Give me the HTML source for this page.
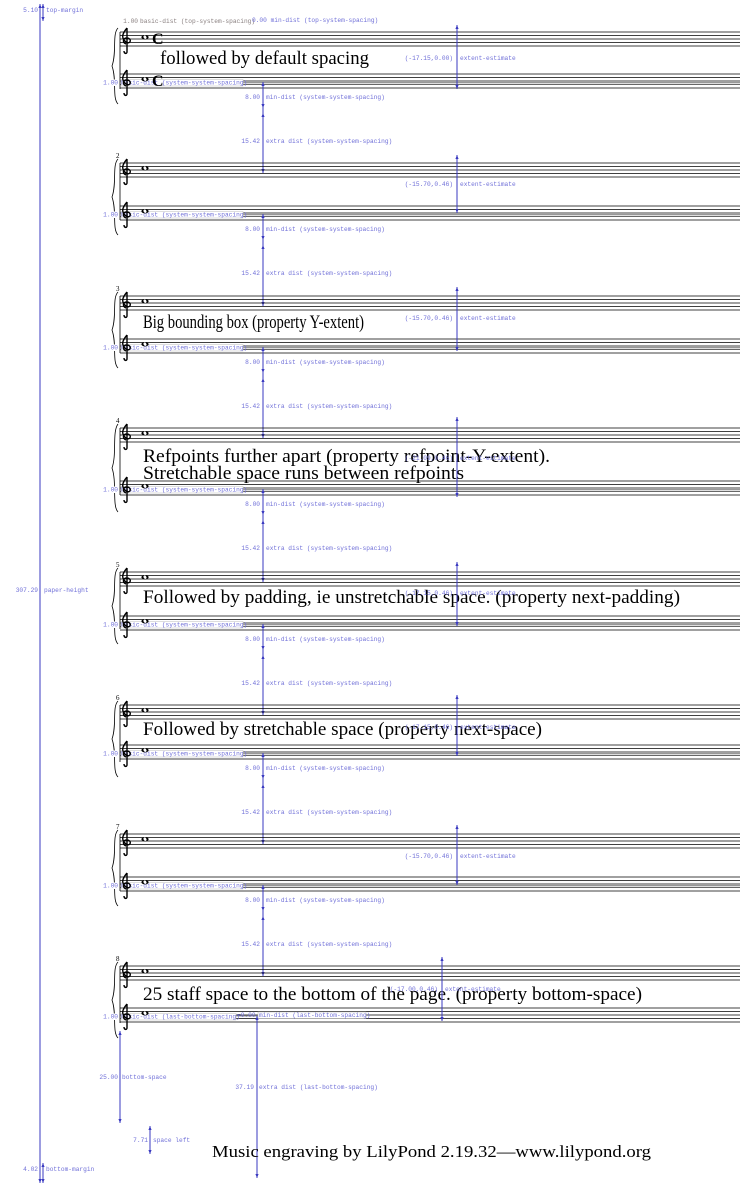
<!DOCTYPE html>
<html><head><meta charset="utf-8"><style>
html,body{margin:0;padding:0;background:#fff;}
svg{display:block;}
.l{font-family:"Liberation Mono",monospace;font-size:6.2px;fill:#7070d8;}
.g{font-family:"Liberation Mono",monospace;font-size:6.2px;fill:#8a8080;}
.b{font-family:"Liberation Serif",serif;font-size:19px;fill:#000;}
.n{font-family:"Liberation Serif",serif;font-size:7px;fill:#000;}
.bl{stroke:#3a3ac0;stroke-width:1;}
.st{stroke:#000;stroke-width:0.8;}
</style></head><body>
<svg width="741" height="1183" viewBox="0 0 741 1183" xmlns="http://www.w3.org/2000/svg">
<defs>
<g id="lines">
 <line class="st" x1="120" y1="0" x2="740" y2="0"/><line class="st" x1="120" y1="3.5" x2="740" y2="3.5"/><line class="st" x1="120" y1="7" x2="740" y2="7"/><line class="st" x1="120" y1="10.5" x2="740" y2="10.5"/><line class="st" x1="120" y1="14" x2="740" y2="14"/>
</g>
<g id="glyph">
 <path d="M127,-4 C122,2 121,6 126,10 C131,13 132,6 127,6 C123,6 122,10 126,12 M127,-4 L127,20 C127,22 124,22 124,19" fill="none" stroke="#000" stroke-width="1.4"/>
 <ellipse cx="145" cy="5.2" rx="3.6" ry="2.2" fill="#000"/><ellipse cx="145" cy="5.2" rx="1.4" ry="1.8" fill="#fff" transform="rotate(-30 145 5.2)"/>
</g>
<g id="staff"><use href="#lines"/><use href="#glyph"/></g>
<path id="up" d="M-1.6,4 L0,0 L1.6,4 Z" fill="#3a3ac0"/>
<path id="dn" d="M-1.6,-4 L0,0 L1.6,-4 Z" fill="#3a3ac0"/>
<g id="bot">
 <line x1="243" y1="8.5" x2="740" y2="8.5" stroke="#999" stroke-width="1"/>
 <line x1="243" y1="10" x2="740" y2="10" stroke="#aaa" stroke-width="0.8"/>
 <rect x="121" y="5.5" width="122" height="6.5" fill="#fff" stroke="#bbb" stroke-width="0.5"/>
 <rect x="103" y="5.5" width="16" height="6.5" fill="#fff"/>
 <text class="l" x="118" y="10.5" text-anchor="end">1.00</text>
 <text class="l" x="121" y="10.5">basic-dist (system-system-spacing)</text>
 <text class="l" x="260" y="25" text-anchor="end">8.00</text>
 <text class="l" x="266" y="25">min-dist (system-system-spacing)</text>
 <text class="l" x="260" y="69" text-anchor="end">15.42</text>
 <text class="l" x="266" y="69">extra dist (system-system-spacing)</text>
 <use href="#up" x="263" y="8"/><use href="#dn" x="263" y="34"/><use href="#up" x="263" y="39"/>
</g>
<g id="bs"><use href="#lines"/><use href="#bot"/><use href="#glyph"/></g>
<g id="brace"><path d="M118,-4 C112,2 117,20 112,34 C117,48 112,66 118,72" fill="none" stroke="#000" stroke-width="0.8"/><line x1="120" y1="0" x2="120" y2="57" stroke="#000" stroke-width="0.8"/></g>
</defs>

<line class="bl" x1="40" y1="4" x2="40" y2="1183"/>
<line class="bl" x1="43" y1="4" x2="43" y2="21"/><use href="#up" x="40" y="4"/><use href="#up" x="43" y="4"/><use href="#dn" x="43" y="21"/>
<text class="l" x="38" y="12" text-anchor="end">5.10</text><text class="l" x="46" y="12">top-margin</text>
<text class="l" x="38" y="592" text-anchor="end">307.29</text><text class="l" x="44" y="592">paper-height</text>
<line class="bl" x1="43" y1="1163" x2="43" y2="1183"/><use href="#up" x="43" y="1163"/><use href="#dn" x="43" y="1183"/><use href="#dn" x="40" y="1183"/>
<text class="l" x="38" y="1171" text-anchor="end">4.02</text><text class="l" x="46" y="1171">bottom-margin</text>

<text class="g" x="138" y="23" text-anchor="end">1.00</text><text class="g" x="140" y="23">basic-dist (top-system-spacing)</text>
<text class="l" x="252" y="22">0.00 min-dist (top-system-spacing)</text>

<g transform="translate(0,32)"><use href="#staff"/><use href="#brace"/><text x="152" y="12" font-family="Liberation Serif,serif" font-size="16" font-weight="bold">C</text></g>
<g transform="translate(0,74)"><use href="#bs"/><text x="152" y="12" font-family="Liberation Serif,serif" font-size="16" font-weight="bold">C</text></g>
<text class="b" x="160" y="64" textLength="209" lengthAdjust="spacingAndGlyphs">followed by default spacing</text>
<line class="bl" x1="457" y1="25" x2="457" y2="89"/><use href="#up" x="457" y="25"/><use href="#dn" x="457" y="89"/>
<text class="l" x="453" y="60" text-anchor="end">(-17.15,0.00)</text><text class="l" x="460" y="60">extent-estimate</text>
<line class="bl" x1="263" y1="82" x2="263" y2="173"/><use href="#dn" x="263" y="173"/>

<text class="n" x="116" y="158">2</text>
<g transform="translate(0,163)"><use href="#staff"/><use href="#brace"/></g>
<g transform="translate(0,206)"><use href="#bs"/></g>
<line class="bl" x1="457" y1="155" x2="457" y2="213"/><use href="#up" x="457" y="155"/><use href="#dn" x="457" y="213"/>
<text class="l" x="453" y="186" text-anchor="end">(-15.70,0.46)</text><text class="l" x="460" y="186">extent-estimate</text>
<line class="bl" x1="263" y1="214" x2="263" y2="306"/><use href="#dn" x="263" y="306"/>

<text class="n" x="116" y="291">3</text>
<g transform="translate(0,296)"><use href="#staff"/><use href="#brace"/></g>
<g transform="translate(0,339)"><use href="#bs"/></g>
<text class="b" x="143" y="328" textLength="221" lengthAdjust="spacingAndGlyphs">Big bounding box (property Y-extent)</text>
<line class="bl" x1="457" y1="287" x2="457" y2="351"/><use href="#up" x="457" y="287"/><use href="#dn" x="457" y="351"/>
<text class="l" x="453" y="320" text-anchor="end">(-15.70,0.46)</text><text class="l" x="460" y="320">extent-estimate</text>
<line class="bl" x1="263" y1="347" x2="263" y2="438"/><use href="#dn" x="263" y="438"/>

<text class="n" x="116" y="423">4</text>
<g transform="translate(0,428)"><use href="#staff"/><path d="M118,-4 C112,4 117,26 112,40 C117,54 112,78 118,84" fill="none" stroke="#000" stroke-width="0.8"/><line x1="120" y1="0" x2="120" y2="67" stroke="#000" stroke-width="0.8"/></g>
<g transform="translate(0,481)"><use href="#bs"/></g>
<text class="b" x="143" y="462" textLength="407" lengthAdjust="spacingAndGlyphs">Refpoints further apart (property refpoint-Y-extent).</text>
<text class="b" x="143" y="479" textLength="321" lengthAdjust="spacingAndGlyphs">Stretchable space runs between refpoints</text>
<line class="bl" x1="457" y1="417" x2="457" y2="497"/><use href="#up" x="457" y="417"/><use href="#dn" x="457" y="497"/>
<text class="l" x="453" y="460" text-anchor="end">(-21.09,0.46)</text><text class="l" x="460" y="460">extent-estimate</text>
<line class="bl" x1="263" y1="489" x2="263" y2="582"/><use href="#dn" x="263" y="582"/>

<text class="n" x="116" y="567">5</text>
<g transform="translate(0,572)"><use href="#staff"/><use href="#brace"/></g>
<g transform="translate(0,616)"><use href="#bs"/></g>
<text class="b" x="143" y="603" textLength="537" lengthAdjust="spacingAndGlyphs">Followed by padding, ie unstretchable space. (property next-padding)</text>
<line class="bl" x1="457" y1="562" x2="457" y2="626"/><use href="#up" x="457" y="562"/><use href="#dn" x="457" y="626"/>
<text class="l" x="453" y="595" text-anchor="end">(-17.15,0.46)</text><text class="l" x="460" y="595">extent-estimate</text>
<line class="bl" x1="263" y1="624" x2="263" y2="715"/><use href="#dn" x="263" y="715"/>

<text class="n" x="116" y="700">6</text>
<g transform="translate(0,705)"><use href="#staff"/><use href="#brace"/></g>
<g transform="translate(0,745)"><use href="#bs"/></g>
<text class="b" x="143" y="735" textLength="399" lengthAdjust="spacingAndGlyphs">Followed by stretchable space (property next-space)</text>
<line class="bl" x1="457" y1="695" x2="457" y2="756"/><use href="#up" x="457" y="695"/><use href="#dn" x="457" y="756"/>
<text class="l" x="453" y="729" text-anchor="end">(-17.15,0.46)</text><text class="l" x="460" y="729">extent-estimate</text>
<line class="bl" x1="263" y1="753" x2="263" y2="844"/><use href="#dn" x="263" y="844"/>

<text class="n" x="116" y="829">7</text>
<g transform="translate(0,834)"><use href="#staff"/><use href="#brace"/></g>
<g transform="translate(0,877)"><use href="#bs"/></g>
<line class="bl" x1="457" y1="825" x2="457" y2="885"/><use href="#up" x="457" y="825"/><use href="#dn" x="457" y="885"/>
<text class="l" x="453" y="858" text-anchor="end">(-15.70,0.46)</text><text class="l" x="460" y="858">extent-estimate</text>
<line class="bl" x1="263" y1="885" x2="263" y2="976"/><use href="#dn" x="263" y="976"/>

<text class="n" x="116" y="961">8</text>
<g transform="translate(0,966)"><use href="#staff"/><use href="#brace"/></g>
<g transform="translate(0,1008)"><use href="#lines"/>
 <line x1="216" y1="8" x2="365" y2="8" stroke="#999" stroke-width="1"/>
 <rect x="121" y="5.5" width="115" height="6.5" fill="#fff" stroke="#bbb" stroke-width="0.5"/>
 <rect x="103" y="5.5" width="16" height="6.5" fill="#fff"/>
 <rect x="258" y="4" width="108" height="6.5" fill="#fff" stroke="#bbb" stroke-width="0.5"/>
 <text class="l" x="118" y="10.5" text-anchor="end">1.00</text>
 <text class="l" x="121" y="10.5">basic-dist (last-bottom-spacing)</text>
 <text class="l" x="237" y="9">=0.00</text>
 <text class="l" x="259" y="9">min-dist (last-bottom-spacing)</text>
 <use href="#glyph"/>
</g>
<text class="b" x="143" y="1000" textLength="499" lengthAdjust="spacingAndGlyphs">25 staff space to the bottom of the page. (property bottom-space)</text>
<line class="bl" x1="442" y1="957" x2="442" y2="1021"/><use href="#up" x="442" y="957"/><use href="#dn" x="442" y="1021"/>
<text class="l" x="438" y="991" text-anchor="end">(-17.00,0.46)</text><text class="l" x="445" y="991">extent-estimate</text>

<line class="bl" x1="257" y1="1016" x2="257" y2="1178"/><use href="#up" x="257" y="1016"/><use href="#dn" x="257" y="1178"/>
<text class="l" x="254" y="1089" text-anchor="end">37.19</text><text class="l" x="259" y="1089">extra dist (last-bottom-spacing)</text>
<line class="bl" x1="120" y1="1031" x2="120" y2="1123"/><use href="#up" x="120" y="1031"/><use href="#dn" x="120" y="1123"/>
<text class="l" x="118" y="1079" text-anchor="end">25.00</text><text class="l" x="122" y="1079">bottom-space</text>
<line class="bl" x1="150" y1="1126" x2="150" y2="1154"/><use href="#up" x="150" y="1126"/><use href="#dn" x="150" y="1154"/>
<text class="l" x="148" y="1142" text-anchor="end">7.71</text><text class="l" x="153" y="1142">space left</text>

<text class="b" x="212" y="1157" style="font-size:17px" textLength="439" lengthAdjust="spacingAndGlyphs">Music engraving by LilyPond 2.19.32—www.lilypond.org</text>
</svg>
</body></html>
